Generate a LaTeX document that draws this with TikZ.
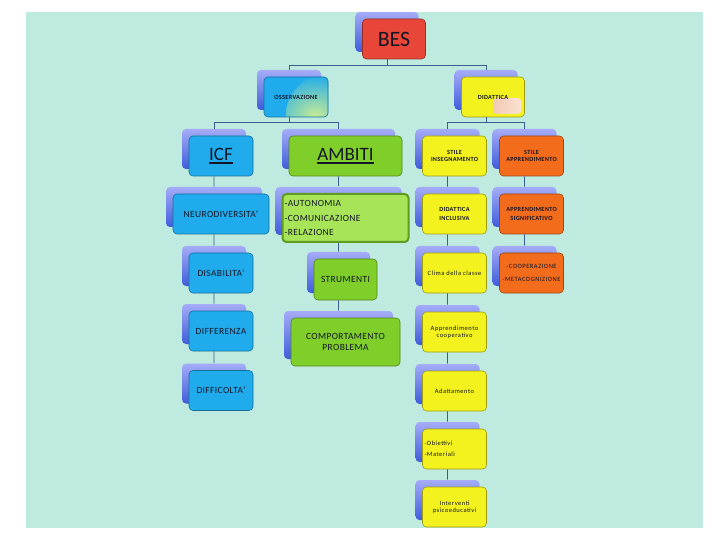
\documentclass[tikz,border=0pt]{standalone}
\usepackage{fontspec}
\setmainfont{Carlito}
\usetikzlibrary{shadows}

\definecolor{sfondo}{RGB}{190,234,224}
\definecolor{blulinea}{RGB}{58,95,140}
\definecolor{ombraa}{RGB}{165,172,248}
\definecolor{ombrab}{RGB}{62,92,218}
\definecolor{azzurro}{RGB}{32,172,236}
\definecolor{rosso}{RGB}{232,70,56}
\definecolor{verde}{RGB}{128,206,42}
\definecolor{verdechiaro}{RGB}{168,228,88}
\definecolor{giallo}{RGB}{243,242,30}
\definecolor{arancio}{RGB}{242,108,28}
\definecolor{verdino}{RGB}{196,234,150}
\definecolor{salmone}{RGB}{236,176,146}
\definecolor{rosino}{RGB}{250,228,214}
\definecolor{testo}{RGB}{20,22,40}

\newcommand{\sottolinea}[1]{\setbox0=\hbox{#1}\rlap{\rule[-3pt]{\wd0}{1.6pt}}\box0}
\newcommand{\piccola}[1]{\fontsize{6.5}{#1}\selectfont\addfontfeature{LetterSpace=8}}
\newcommand{\piccolab}[1]{\fontsize{6.3}{#1}\selectfont\bfseries\addfontfeature{LetterSpace=5}}

\begin{document}
\begin{tikzpicture}[x=1bp,y=-1bp,font=\fontsize{9.5}{11}\selectfont\addfontfeature{LetterSpace=4},text=testo,
  linea/.style={draw=blulinea,line width=.8bp},
  scatola/.style={rounded corners=4bp,draw=#1!65!black,fill=#1,line width=.6bp,
    minimum width=64bp,minimum height=40bp,inner sep=1bp,align=center,
    general shadow={shadow xshift=-7bp,shadow yshift=7bp,top color=ombraa,bottom color=ombrab,draw=none}},
  piccolo/.style={font=\piccola{6.8}},
  grande/.style={font=\fontsize{19}{22}\selectfont}]

\useasboundingbox (0,0) rectangle (720,540);
\fill[sfondo] (26,12) rectangle (703,528);

% livello alto
\node[scatola=rosso,minimum width=63bp,font=\fontsize{22}{24}\selectfont] (bes) at (394,39) {BES};
\node[scatola=azzurro,font=\piccolab{7},path picture={
  \shade[inner color=verdino,outer color=azzurro] ([shift={(-2,-2)}]path picture bounding box.south east) circle (40bp);}]
  (oss) at (296,97) {OSSERVAZIONE};
\node[scatola=giallo,minimum width=63bp,font=\piccolab{7},path picture={
  \shade[left color=salmone,right color=rosino] ([shift={(0,1)}]path picture bounding box.center) rectangle ([shift={(-3,-3)}]path picture bounding box.south east);}]
  (did) at (493,97) {DIDATTICA};

% colonna ICF
\node[scatola=azzurro,grande] (icf) at (221,156) {\sottolinea{ICF}};
\node[scatola=azzurro,minimum width=96bp] (neuro) at (221,214) {NEURODIVERSITA'};
\node[scatola=azzurro] (disab) at (221,273) {DISABILITA'};
\node[scatola=azzurro] (diff) at (221,331) {DIFFERENZA};
\node[scatola=azzurro] (diffic) at (221,390.5) {DIFFICOLTA'};

% colonna AMBITI
\node[scatola=verde,grande,minimum width=113bp] (amb) at (345.5,156) {\sottolinea{AMBITI}};
\node[scatola=verdechiaro,draw=verde!75!black,line width=2bp,minimum width=126bp,minimum height=48bp,
  text width=122bp,inner xsep=2bp,align=left,font=\fontsize{9.5}{15}\selectfont\addfontfeature{LetterSpace=4}]
  (ambl) at (345.5,218) {-AUTONOMIA\\-COMUNICAZIONE\\-RELAZIONE};
\node[scatola=verde,minimum width=63bp,minimum height=41bp] (strum) at (345.5,279.5) {STRUMENTI};
\node[scatola=verde,minimum width=109bp,minimum height=48bp] (comp) at (345.5,342) {COMPORTAMENTO\\PROBLEMA};

% colonna stile insegnamento
\node[scatola=giallo,font=\piccolab{6.7}] (stins) at (454.5,156) {STILE\\INSEGNAMENTO};
\node[scatola=giallo,font=\piccolab{8.3}] (didinc) at (454.5,214) {DIDATTICA\\INCLUSIVA};
\node[scatola=giallo,piccolo] (clima) at (454.5,273) {Clima della classe};
\node[scatola=giallo,font=\piccola{7.3}] (appcoop) at (454.5,332) {Apprendimento\\cooperativo};
\node[scatola=giallo,piccolo] (adatt) at (454.5,391) {Adattamento};
\node[scatola=giallo,font=\piccola{10.7},text width=60bp,inner xsep=2bp,align=left]
  (obiet) at (454.5,449) {-Obiettivi\\-Materiali};
\node[scatola=giallo,font=\piccola{7.3}] (interv) at (454.5,507) {Interventi\\psicoeducativi};

% colonna stile apprendimento
\node[scatola=arancio,font=\piccolab{6.7}] (stapp) at (531.5,156) {STILE\\APPRENDIMENTO};
\node[scatola=arancio,font=\piccolab{8.3}] (appsig) at (531.5,214) {APPRENDIMENTO\\SIGNIFICATIVO};
\node[scatola=arancio,font=\piccola{12.7}] (coop) at (531.5,273) {-COOPERAZIONE\\-METACOGNIZIONE};

% rami
\foreach \p/\f in {bes/oss,bes/did}
  \draw[linea] ([xshift=-7bp]\p.south) -- ++(0,6) -| ([shift={(-7,-7)}]\f.north);
\foreach \p/\f in {oss/icf,oss/amb,did/stins,did/stapp}
  \draw[linea] ([xshift=-7bp]\p.south) -- ++(0,5.5) -| ([shift={(-7,-7)}]\f.north);
\foreach \p/\f in {icf/neuro,neuro/disab,disab/diff,diff/diffic,
                   amb/ambl,ambl/strum,strum/comp,
                   stins/didinc,didinc/clima,clima/appcoop,appcoop/adatt,adatt/obiet,obiet/interv,
                   stapp/appsig,appsig/coop}
  \draw[linea] ([xshift=-7bp]\p.south) -- ([shift={(-7,-7)}]\f.north);

\end{tikzpicture}
\end{document}
